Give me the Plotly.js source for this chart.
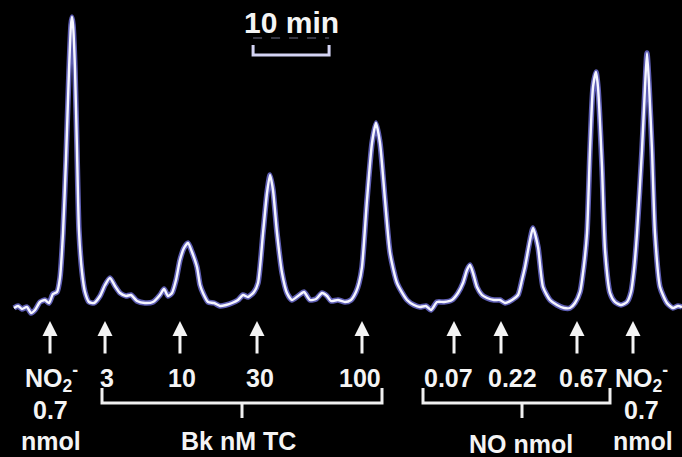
<!DOCTYPE html>
<html>
<head>
<meta charset="utf-8">
<script src="https://cdn.plot.ly/plotly-3.0.1.min.js"></script>
<style>html,body{margin:0;padding:0;background:#000;}#chart{width:682px;height:457px;}</style>
</head>
<body>
<div id="chart"></div>
<script>
// Chromatogram trace: time (min) and detector response (arbitrary units)
const timeMin = [1.84,2.37,2.89,3.55,4.08,4.61,5.26,5.92,6.45,6.97,7.50,7.89,8.29,8.68,9.08,9.34,9.47,9.61,9.87,10.13,10.39,10.79,11.18,11.71,12.37,13.16,13.82,14.47,15.13,15.79,16.58,17.24,18.03,19.08,20.13,21.05,21.58,22.11,22.63,23.16,23.68,24.21,24.74,25.26,25.92,26.32,26.71,27.37,28.16,28.95,29.74,30.53,31.32,31.97,32.63,33.42,33.95,34.61,35.13,35.53,35.92,36.45,37.11,37.76,38.42,39.21,40.00,40.79,41.58,42.37,43.03,43.55,44.47,45.39,46.18,46.84,47.24,47.63,48.29,48.95,49.47,50.00,50.66,51.32,52.24,53.55,54.47,55.26,56.05,56.71,57.50,58.42,59.47,60.26,60.92,61.45,61.84,62.24,62.76,63.42,64.08,65.00,65.79,66.45,67.37,68.16,68.68,69.08,69.74,70.13,70.79,71.45,72.37,73.29,74.21,75.00,75.66,76.32,76.84,77.24,77.63,78.03,78.42,78.68,79.21,79.61,80.26,80.92,81.71,82.50,83.03,83.42,83.82,84.47,84.87,85.13,85.39,85.79,86.18,86.84,87.76,88.55,89.21,89.74];
const signal = [-3,-1,-4,-2,-8,-5,3,5,2,11,13,27,72,145,235,280,288,280,235,155,75,33,13,3,2,9,20,27,19,12,9,10,4,2,3,10,16,9,12,25,45,57,62,53,38,20,12,3,2,-1,0,2,5,10,8,13,22,72,112,130,115,72,32,12,5,9,13,5,6,12,9,4,5,3,5,13,22,38,105,162,182,162,105,52,22,5,0,-2,-1,-5,3,3,5,12,22,35,40,32,18,10,7,5,5,2,5,10,25,38,65,77,58,18,5,0,-3,-3,2,13,40,72,155,218,233,218,138,55,12,3,0,3,13,35,72,155,218,252,222,155,72,18,2,-3,-1,-2];

// Injection times (min) marked by arrows
const injectionTimes = [6.58,13.82,23.68,33.82,47.63,59.74,65.92,75.92,83.29];
const arrowTipSignal = -16;

// Labels
const doseLabels = ['NO<sub>2</sub><sup>-</sup>','3','10','30','100','0.07','0.22','0.67','NO<sub>2</sub><sup>-</sup>'];
const doseLabelPx = [51,107,182,260,360,448,512,583,641];
const nitriteSubLabels = ['0.7','nmol'];
const groupLabels = ['Bk nM TC','NO nmol'];
const scaleBarLabel = '10 min';
const scaleBarStart = 33.3;
const scaleBarLength = 10;

const W = 682, H = 457;
const PX = 7.6; // px per minute
const xp = p => p / W;
const yp = p => 1 - p / H;

const labelFont = {family: 'Liberation Sans, Arial, sans-serif', size: 25, color: '#f4f4f4'};
const B = s => '<b>' + s + '</b>';

const traces = [
  {x: timeMin, y: signal, mode: 'lines', line: {color: 'rgba(110,110,210,0.85)', width: 5.5, shape: 'spline', smoothing: 0.6}, hoverinfo: 'skip'},
  {x: timeMin, y: signal, mode: 'lines', line: {color: '#f6f6ff', width: 2.4, shape: 'spline', smoothing: 0.6}, hoverinfo: 'skip'}
];

const annotations = [];
injectionTimes.forEach(t => {
  annotations.push({x: t, y: arrowTipSignal, xref: 'x', yref: 'y', text: '', showarrow: true,
    arrowhead: 2, arrowsize: 1, arrowwidth: 3, arrowcolor: '#f4f4f4', ax: 0, ay: 34, standoff: 0});
});
doseLabels.forEach((txt, i) => {
  annotations.push({x: xp(doseLabelPx[i]), y: yp(378), xref: 'paper', yref: 'paper', text: B(txt),
    showarrow: false, xanchor: 'center', yanchor: 'middle', font: labelFont});
});
// NO2- sub labels (left and right)
[[50, 641], [51, 643]].forEach((pos, row) => {
  pos.forEach(px => {
    annotations.push({x: xp(px), y: yp(row === 0 ? 410 : 441), xref: 'paper', yref: 'paper', text: B(nitriteSubLabels[row]),
      showarrow: false, xanchor: 'center', yanchor: 'middle', font: labelFont});
  });
});
annotations.push({x: xp(238), y: yp(441), xref: 'paper', yref: 'paper', text: B(groupLabels[0]), showarrow: false, xanchor: 'center', yanchor: 'middle', font: labelFont});
annotations.push({x: xp(521), y: yp(444), xref: 'paper', yref: 'paper', text: B(groupLabels[1]), showarrow: false, xanchor: 'center', yanchor: 'middle', font: labelFont});
annotations.push({x: scaleBarStart + scaleBarLength / 2, y: yp(22), xref: 'x', yref: 'paper', text: B(scaleBarLabel), showarrow: false, xanchor: 'center', yanchor: 'middle',
  font: {family: 'Liberation Sans, Arial, sans-serif', size: 30, color: '#f4f4f4'}});

const bracketLine = {color: '#f0f0f0', width: 3};
function bracket(x0, x1, xc) {
  return {type: 'path', xref: 'paper', yref: 'paper',
    path: `M ${xp(x0)} ${yp(388)} L ${xp(x0)} ${yp(403)} L ${xp(x1)} ${yp(403)} L ${xp(x1)} ${yp(388)} M ${xp(xc)} ${yp(403)} L ${xp(xc)} ${yp(418)}`,
    line: bracketLine};
}
const shapes = [
  bracket(102, 382, 242),
  bracket(423, 610, 522),
  {type: 'path', xref: 'x', yref: 'paper',
    path: `M ${scaleBarStart} ${yp(45)} L ${scaleBarStart} ${yp(55)} L ${scaleBarStart + scaleBarLength} ${yp(55)} L ${scaleBarStart + scaleBarLength} ${yp(45)}`,
    line: {color: '#d4d4f4', width: 3}},
  {type: 'line', xref: 'x', yref: 'paper', x0: scaleBarStart, x1: scaleBarStart + scaleBarLength, y0: yp(38), y1: yp(38),
    line: {color: '#4a4a5a', width: 1.5, dash: 'dash'}}
];

const layout = {
  width: W, height: H,
  margin: {l: 0, r: 0, t: 0, b: 0, pad: 0},
  paper_bgcolor: '#000', plot_bgcolor: '#000',
  showlegend: false,
  xaxis: {range: [0, W / PX], visible: false, fixedrange: true},
  yaxis: {range: [-152, 305], visible: false, fixedrange: true},
  annotations: annotations,
  shapes: shapes
};

Plotly.newPlot('chart', traces, layout, {displayModeBar: false, staticPlot: true});
</script>
</body>
</html>
